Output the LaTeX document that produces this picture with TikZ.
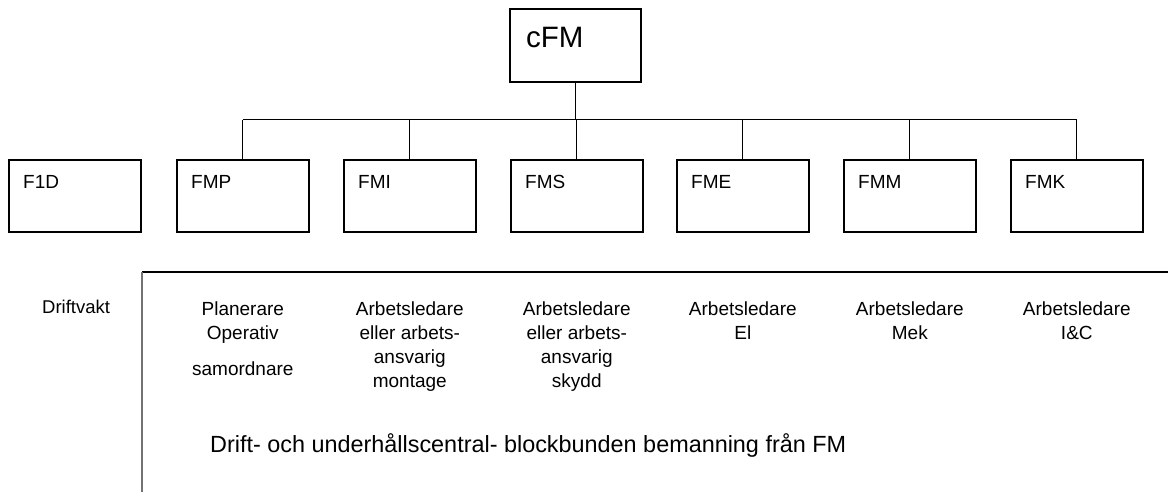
\documentclass[tikz,border=0pt]{standalone}
\usepackage{fontspec}
\setmainfont{Liberation Sans}
\begin{document}
\begin{tikzpicture}[x=1pt,y=-1pt,
  unitbox/.style={draw=black,line width=1.6pt,minimum width=132pt,minimum height=72pt,inner sep=0pt,anchor=north west},
  boxlabel/.style={anchor=base west,inner sep=0pt,font=\fontsize{19}{22}\selectfont},
  roletext/.style={anchor=base,inner sep=0pt,align=center,font=\fontsize{19}{24}\selectfont},
  link/.style={draw=black,line width=1pt}]
\useasboundingbox (0,0) rectangle (1172,492);

% top unit
\node[unitbox,minimum width=131pt,minimum height=73pt] (cfm) at (509,8) {};
\node[anchor=base west,inner sep=0pt,font=\fontsize{29.5}{32}\selectfont] (cfmlbl) at (526,48) {cFM};

% unit boxes in a row
\foreach \name/\lbl/\x in {f1d/F1D/8, fmp/FMP/176, fmi/FMI/343, fms/FMS/510, fme/FME/676, fmm/FMM/843, fmk/FMK/1010} {
  \node[unitbox] (\name) at (\x,159) {};
  \node[boxlabel] (\name lbl) at (\x+15,188) {\lbl};
}

% organisation tree
\coordinate (bus) at (cfm.south |- 0,120);
\draw[link] (cfm.south) -- (bus);
\draw[link] (fmp.north |- bus) -- (fmk.north |- bus);
\foreach \name in {fmp,fmi,fms,fme,fmm,fmk}
  \draw[link] (\name.north |- bus) -- (\name.north);

% staffing frame
\coordinate (framecorner) at (142,272);
\coordinate (frameright) at (1168,272);
\coordinate (framebottom) at (142,492);
\draw[line width=1.1pt,black] (framecorner) -- (frameright);
\draw[line width=1.3pt,black!55] (framecorner) -- (framebottom);

\node[anchor=base west,inner sep=0pt,font=\fontsize{18.5}{22}\selectfont] (vakt) at (42,313) {Driftvakt};

% role texts (anchored at the baseline of their last line)
\node[roletext] (rp) at (fmp.south |- 0,375) {Planerare\\Operativ\\[12pt]samordnare};
\node[roletext] (ri) at (fmi.south |- 0,387) {Arbetsledare\\eller arbets-\\ansvarig\\montage};
\node[roletext] (rs) at (fms.south |- 0,387) {Arbetsledare\\eller arbets-\\ansvarig\\skydd};
\node[roletext] (re) at (fme.south |- 0,339) {Arbetsledare\\El};
\node[roletext] (rm) at (fmm.south |- 0,339) {Arbetsledare\\Mek};
\node[roletext] (rk) at (fmk.south |- 0,339) {Arbetsledare\\I\&C};

\node[anchor=base west,inner sep=0pt,font=\fontsize{23.4}{28}\selectfont] (central) at (210,452)
  {Drift- och underhållscentral- blockbunden bemanning från FM};
\end{tikzpicture}
\end{document}
